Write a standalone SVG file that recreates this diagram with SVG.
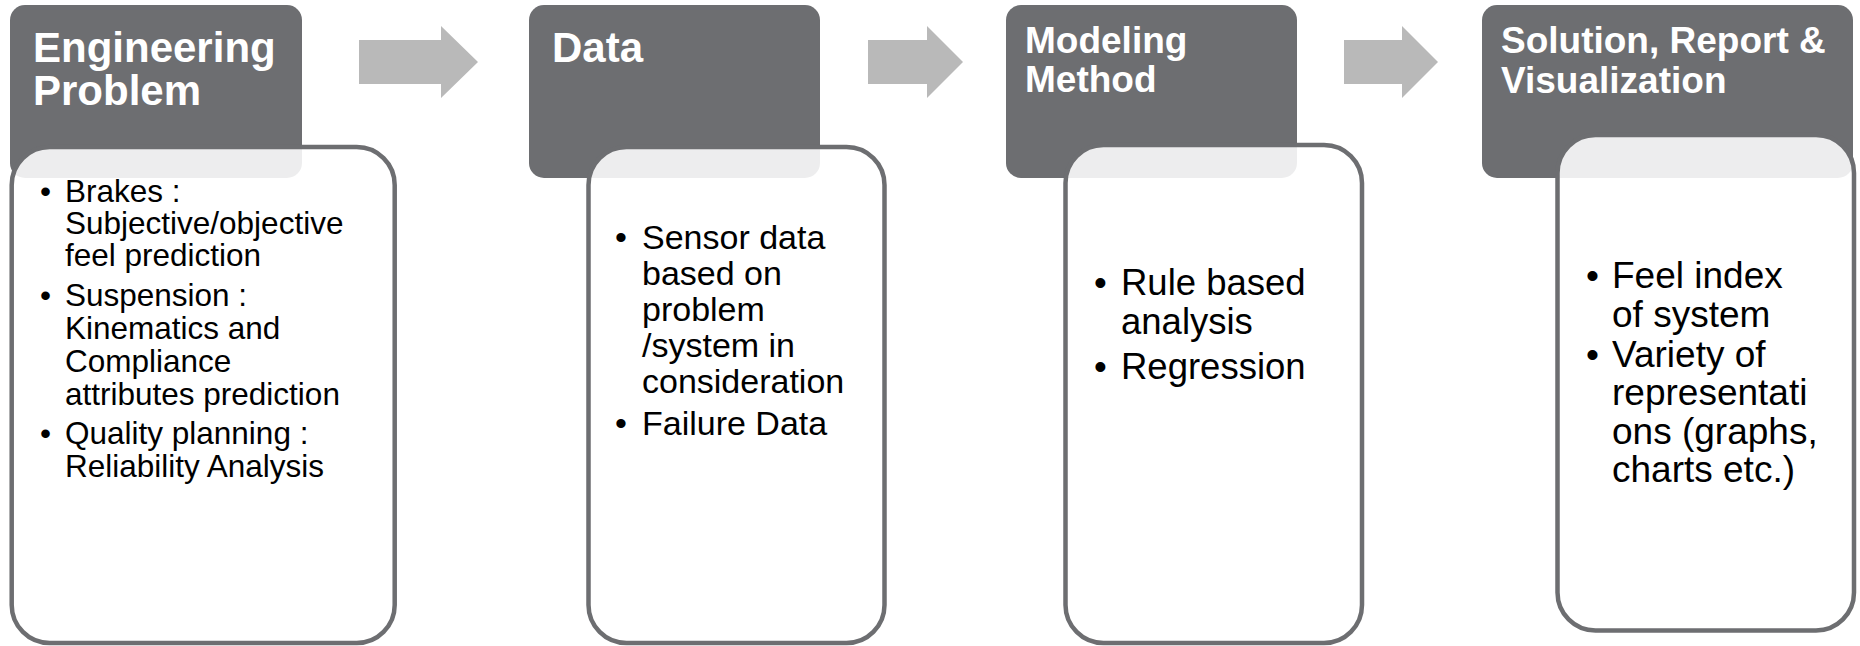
<svg xmlns="http://www.w3.org/2000/svg" width="1860" height="646" viewBox="0 0 1860 646">
<style>
.hdr{fill:#6d6e71}
.box{fill:#ffffff;fill-opacity:0.88;stroke:#6d6e71;stroke-width:4.5}
.ttl{font-family:"Liberation Sans",Arial,sans-serif;font-weight:bold;fill:#ffffff}
.txt{font-family:"Liberation Sans",Arial,sans-serif;fill:#000000}
.arr{fill:#b9b9b9}
</style>
<rect width="1860" height="646" fill="#ffffff"/>
<g id="connectors">
<polygon class="arr" points="359,40 441,40 441,26 478,62 441,98 441,84 359,84"/>
<polygon class="arr" points="868,40 927,40 927,26 963,62 927,98 927,84 868,84"/>
<polygon class="arr" points="1344,40 1402,40 1402,26 1438,62 1402,98 1402,84 1344,84"/>
</g>
<g id="node-engineering-problem">
<rect class="hdr" x="10" y="5" width="292" height="173" rx="15"/>
<text class="ttl" font-size="42"><tspan x="33" y="62">Engineering</tspan><tspan x="33" y="105">Problem</tspan></text>
<rect class="box" x="11.7" y="147" width="383" height="496" rx="38"/>
<text class="txt" font-size="31.5"><tspan x="40" y="202">•</tspan><tspan x="65" y="202">Brakes :</tspan><tspan x="65" y="234">Subjective/objective</tspan><tspan x="65" y="266">feel prediction</tspan><tspan x="40" y="306">•</tspan><tspan x="65" y="306">Suspension :</tspan><tspan x="65" y="339">Kinematics and</tspan><tspan x="65" y="372">Compliance</tspan><tspan x="65" y="405">attributes prediction</tspan><tspan x="40" y="444">•</tspan><tspan x="65" y="444">Quality planning :</tspan><tspan x="65" y="477">Reliability Analysis</tspan></text>
</g>
<g id="node-data">
<rect class="hdr" x="529" y="5" width="291" height="173" rx="15"/>
<text class="ttl" font-size="42" x="552" y="62">Data</text>
<rect class="box" x="588.5" y="147" width="296" height="496" rx="38"/>
<text class="txt" font-size="34"><tspan x="615" y="249">•</tspan><tspan x="642" y="249">Sensor data</tspan><tspan x="642" y="285">based on</tspan><tspan x="642" y="321">problem</tspan><tspan x="642" y="357">/system in</tspan><tspan x="642" y="393">consideration</tspan><tspan x="615" y="435">•</tspan><tspan x="642" y="435">Failure Data</tspan></text>
</g>
<g id="node-modeling-method">
<rect class="hdr" x="1006" y="5" width="291" height="173" rx="15"/>
<text class="ttl" font-size="37"><tspan x="1025" y="53">Modeling</tspan><tspan x="1025" y="92">Method</tspan></text>
<rect class="box" x="1065.5" y="145" width="296.5" height="498" rx="38"/>
<text class="txt" font-size="36.5"><tspan x="1094" y="295">•</tspan><tspan x="1121" y="295">Rule based</tspan><tspan x="1121" y="334">analysis</tspan><tspan x="1094" y="379">•</tspan><tspan x="1121" y="379">Regression</tspan></text>
</g>
<g id="node-solution">
<rect class="hdr" x="1482" y="5" width="371" height="173" rx="15"/>
<text class="ttl" font-size="37"><tspan x="1501" y="53">Solution, Report &amp;</tspan><tspan x="1501" y="93">Visualization</tspan></text>
<rect class="box" x="1557.5" y="135" width="296.5" height="495.5" rx="38"/>
<text class="txt" font-size="37"><tspan x="1586" y="288">•</tspan><tspan x="1612" y="288">Feel index</tspan><tspan x="1612" y="327">of system</tspan><tspan x="1586" y="367">•</tspan><tspan x="1612" y="367">Variety of</tspan><tspan x="1612" y="405">representati</tspan><tspan x="1612" y="444">ons (graphs,</tspan><tspan x="1612" y="482">charts etc.)</tspan></text>
</g>
</svg>
